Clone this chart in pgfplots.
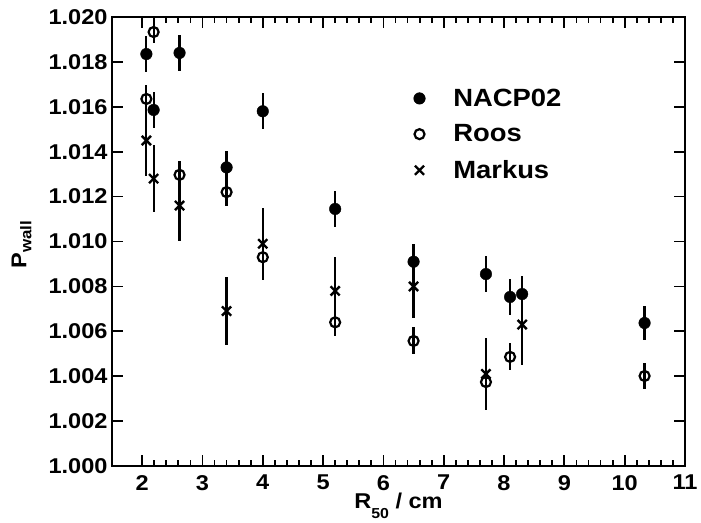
\documentclass[border=0pt]{standalone}
\usepackage{fontspec}
\setmainfont{Liberation Sans}[FakeStretch=1.1]
\usepackage{pgfplots}
\pgfplotsset{compat=1.18}

\pgfplotstableread{
x y ey
2.07 1.01835 0.0008
2.19 1.01586 0.0008
2.62 1.01840 0.0008
3.40 1.01330 0.00075
4.00 1.01580 0.0008
5.20 1.01145 0.0008
6.50 1.00910 0.00077
7.70 1.00855 0.0008
8.10 1.00753 0.0008
8.30 1.00766 0.0008
10.33 1.00637 0.00075
}\nacp

\pgfplotstableread{
x y ey
2.07 1.01635 0.0006
2.19 1.01933 0.0005
2.62 1.01297 0.0006
3.40 1.01220 0.0006
4.00 1.00930 0.0009
5.20 1.00640 0.0006
6.50 1.00557 0.0006
7.70 1.00374 0.0006
8.10 1.00486 0.0006
10.33 1.00401 0.0006
}\roos

\pgfplotstableread{
x y ey
2.07 1.01450 0.0016
2.19 1.01280 0.0015
2.62 1.01160 0.0016
3.40 1.00690 0.0015
4.00 1.00990 0.0016
5.20 1.00780 0.0015
6.50 1.00800 0.0014
7.70 1.00410 0.0016
8.30 1.00630 0.0018
}\markus

\begin{document}
\begin{tikzpicture}
\begin{axis}[
  scale only axis,
  width=573bp, height=449bp,
  xmin=1.5, xmax=11, ymin=1.000, ymax=1.020,
  xtick={2,3,...,11}, minor x tick num=4,
  ytick={1.000,1.002,...,1.0201}, minor y tick num=3,
  tick align=inside, axis line style={line width=2.2bp},
  every tick/.style={black, line width=1.8bp},
  major tick length=11bp, minor tick length=6bp,
  xtick pos=both, ytick pos=both,
  /pgf/number format/assume math mode=true,
  scaled y ticks=false,
  tick label style={font=\bfseries\fontsize{21.5}{25}\selectfont},
  xticklabel style={inner sep=1bp, anchor=north, yshift=-8bp},
  yticklabel style={xshift=-1bp, /pgf/number format/.cd, fixed, fixed zerofill, precision=3},
  label style={font=\bfseries\fontsize{21.5}{25}\selectfont},
  xlabel={R\raisebox{-10bp}{\fontsize{14.5}{15}\selectfont 50} / cm},
  ylabel={P\raisebox{-5bp}{\fontsize{15.5}{16}\selectfont wall}},
  xlabel style={at={(rel axis cs:0.5,0)}, anchor=base, inner sep=0bp, yshift=-42bp},
  ylabel style={at={(rel axis cs:-0.158,0.493)}, anchor=center, inner sep=0bp},
  legend style={draw=none, fill=none, at={(0.521,0.849)}, anchor=north west,
    font=\bfseries\fontsize{25}{29}\selectfont, row sep=13bp,
    /tikz/every odd column/.append style={column sep=26bp}},
  legend cell align=left,
]
\addplot[only marks, mark=*, mark size=5.8bp, black,
  error bars/.cd, y dir=both, y explicit, error mark=none,
  error bar style={line width=2.2bp}]
  table[x=x, y=y, y error=ey]{\nacp};
\addlegendentry{NACP02}
\addplot[only marks, mark=o, mark size=5bp, black, mark options={line width=2.2bp},
  error bars/.cd, y dir=both, y explicit, error mark=none,
  error bar style={line width=2.2bp}]
  table[x=x, y=y, y error=ey]{\roos};
\addlegendentry{Roos}
\addplot[only marks, mark=x, mark size=6.5bp, black, mark options={line width=2.4bp},
  error bars/.cd, y dir=both, y explicit, error mark=none,
  error bar style={line width=2.2bp}]
  table[x=x, y=y, y error=ey]{\markus};
\addlegendentry{Markus}
\end{axis}
\pgfresetboundingbox
\path[use as bounding box] (-112bp,-57bp) rectangle (589bp,466bp);
\end{tikzpicture}
\end{document}
